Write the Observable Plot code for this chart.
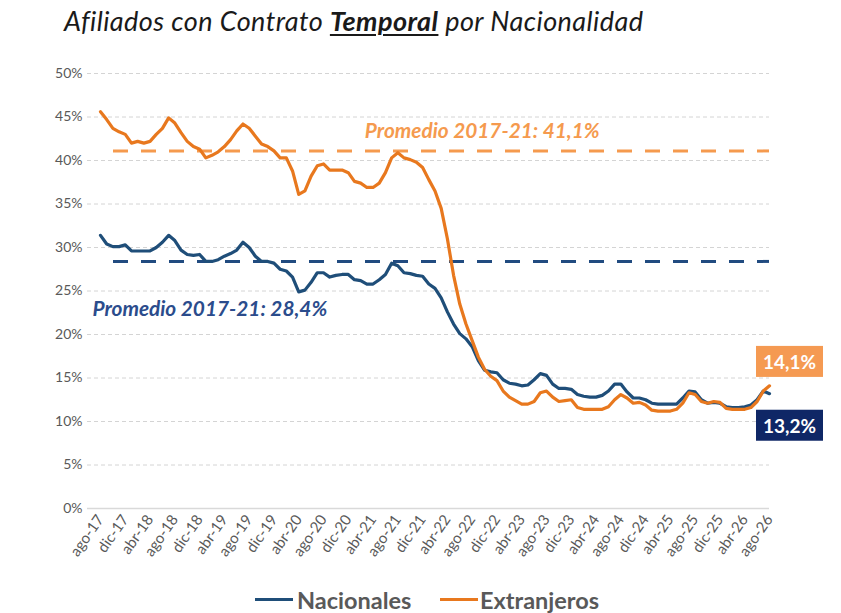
<!DOCTYPE html>
<html><head><meta charset="utf-8">
<script src="https://cdn.jsdelivr.net/npm/d3@7"></script>
<script src="https://cdn.jsdelivr.net/npm/@observablehq/plot@0.6"></script>
<style>
body{margin:0;background:#fff;}
#wrap{width:841px;height:613px;position:relative;overflow:hidden;font-family:Lato,"Open Sans",sans-serif;}
#title{position:absolute;left:64px;top:0;height:42px;line-height:42px;font-size:27px;font-style:italic;color:#1a1a1a;white-space:nowrap;letter-spacing:0.45px;}
#title b{font-weight:bold;text-decoration:underline;text-decoration-thickness:2px;text-underline-offset:3px;}
#chart{position:absolute;left:0;top:44px;}
.leg{position:absolute;top:585px;height:30px;line-height:30px;font-size:23.5px;font-weight:bold;color:#595959;white-space:nowrap;}
.sw{position:absolute;top:598px;height:3px;width:38px;}
</style></head><body>
<div id="wrap">
<div id="title">Afiliados con Contrato <b>Temporal</b> por Nacionalidad</div>
<div id="chart"></div>
<div class="sw" style="left:255px;background:#1F4E79"></div>
<div class="leg" style="left:297px">Nacionales</div>
<div class="sw" style="left:440px;background:#E8781E"></div>
<div class="leg" style="left:480px">Extranjeros</div>
</div>
<script>
const monthNames = ["ene","feb","mar","abr","may","jun","jul","ago","sep","oct","nov","dic"];
const startYear = 2017, startMonth = 7;
const seriesNames = ["Nacionales","Extranjeros"];
const seriesColors = ["#1F4E79","#E8781E"];
const nacionales = [31.4,30.4,30.1,30.1,30.3,29.6,29.6,29.6,29.6,30.0,30.6,31.4,30.8,29.7,29.2,29.1,29.2,28.4,28.4,28.6,
29.0,29.3,29.7,30.6,30.0,29.0,28.4,28.4,28.2,27.5,27.3,26.6,24.9,25.1,26.0,27.1,27.1,26.6,26.8,26.9,
26.9,26.3,26.2,25.8,25.8,26.3,26.9,28.2,27.9,27.1,27.0,26.8,26.7,25.8,25.3,24.2,22.6,21.2,20.1,19.5,
18.6,17.0,15.9,15.7,15.6,14.8,14.4,14.3,14.1,14.2,14.8,15.5,15.3,14.3,13.8,13.8,13.7,13.1,12.9,12.8,
12.8,13.0,13.5,14.3,14.3,13.4,12.7,12.7,12.5,12.1,12.0,12.0,12.0,12.0,12.7,13.5,13.4,12.5,12.1,12.2,
12.1,11.7,11.6,11.6,11.7,11.9,12.5,13.5,13.2];
const extranjeros = [45.6,44.7,43.7,43.3,43.0,42.0,42.2,42.0,42.2,43.0,43.7,44.9,44.3,43.2,42.2,41.6,41.3,40.3,40.6,41.0,
41.6,42.4,43.4,44.2,43.7,42.8,41.9,41.6,41.1,40.3,40.3,38.8,36.1,36.5,38.2,39.4,39.6,38.9,38.9,38.9,
38.6,37.6,37.4,36.9,36.9,37.4,38.6,40.3,40.9,40.3,40.1,39.8,39.2,37.8,36.5,34.5,31.0,26.8,23.5,21.2,
19.3,17.4,16.0,15.2,14.7,13.5,12.8,12.4,12.0,12.0,12.3,13.3,13.5,12.8,12.3,12.4,12.5,11.6,11.4,11.4,
11.4,11.4,11.7,12.5,13.1,12.7,12.1,12.2,11.9,11.3,11.2,11.2,11.2,11.4,12.1,13.3,13.1,12.3,12.1,12.3,
12.2,11.5,11.4,11.4,11.4,11.6,12.3,13.5,14.1];
const avgNacionales = 28.4;
const avgExtranjeros = 41.1;
const avgLabels = ["Promedio 2017-21: 28,4%","Promedio 2017-21: 41,1%"];
const endLabels = ["13,2%","14,1%"];
const yTicks = [0,5,10,15,20,25,30,35,40,45,50];

const months = nacionales.map((_, i) => {
  const m = (startMonth + i) % 12;
  const y = startYear + Math.floor((startMonth + i) / 12);
  return monthNames[m] + "-" + String(y % 100).padStart(2, "0");
});
const tickMonths = months.filter((_, i) => i % 4 === 0);
const data = [
  ...nacionales.map((v, i) => ({month: months[i], value: v, serie: seriesNames[0]})),
  ...extranjeros.map((v, i) => ({month: months[i], value: v, serie: seriesNames[1]}))
];
const last = months.length - 1;

const plot = Plot.plot({
  width: 841, height: 524,
  marginLeft: 100, marginRight: 72, marginTop: 29, marginBottom: 60,
  style: {fontFamily: "Lato, 'Open Sans', sans-serif", background: "white", overflow: "visible"},
  x: {type: "point", domain: months, padding: 0, round: false},
  y: {domain: [0, 50]},
  color: {domain: seriesNames, range: seriesColors},
  marks: [
    Plot.ruleY(yTicks.filter(d => d > 0), {stroke: "#d4d4d4", strokeDasharray: "4,3", insetLeft: -13}),
    Plot.ruleY([0], {stroke: "#d9d9d9", strokeWidth: 1.5, insetLeft: -13}),
    Plot.axisY(yTicks, {tickFormat: d => d + "%", tickSize: 0, tickPadding: 18, fontSize: 14, fill: "#595959", label: null}),
    Plot.axisX(tickMonths, {tickRotate: -55, tickSize: 0, tickPadding: 8, fontSize: 15, fill: "#595959", label: null}),
    Plot.ruleY([avgExtranjeros], {stroke: "#F59A4E", strokeWidth: 3, strokeDasharray: "15,13", strokeDashoffset: 15}),
    Plot.ruleY([avgNacionales], {stroke: "#214B80", strokeWidth: 3, strokeDasharray: "15,13", strokeDashoffset: 15}),
    Plot.line(data, {x: "month", y: "value", stroke: "serie", strokeWidth: 3.2}),
    Plot.text([{month: months[43], value: avgExtranjeros, label: avgLabels[1]}],
      {x: "month", y: "value", text: "label", textAnchor: "start", dx: -2, dy: -20, fill: "#F59A4E", fontWeight: "bold", fontStyle: "italic", fontSize: 20.8}),
    Plot.text([{month: months[0], value: avgNacionales, label: avgLabels[0]}],
      {x: "month", y: "value", text: "label", textAnchor: "start", dx: -8, dy: 48, fill: "#2B4C8C", fontWeight: "bold", fontStyle: "italic", fontSize: 20.8}),
    Plot.text([{month: months[last], value: extranjeros[last], label: endLabels[1]}],
      {x: "month", y: "value", text: "label", dx: 20, dy: -23, fill: "white", fontWeight: "bold", fontSize: 19, className: "box-orange"}),
    Plot.text([{month: months[last], value: nacionales[last], label: endLabels[0]}],
      {x: "month", y: "value", text: "label", dx: 20, dy: 33, fill: "white", fontWeight: "bold", fontSize: 19, className: "box-navy"})
  ]
});
document.getElementById("chart").appendChild(plot);

// draw boxes behind the end labels, sized from the rendered text
[["box-orange", "#F59A52"], ["box-navy", "#0F2766"]].forEach(([cls, color]) => {
  d3.select(plot).selectAll("g." + cls).each(function() {
    const g = this;
    d3.select(g).selectAll("text").each(function() {
      const b = this.getBBox();
      const cx = b.x + b.width / 2, cy = b.y + b.height / 2;
      const w = 67, h = 31;
      const t = this.getAttribute("transform");
      const r = document.createElementNS("http://www.w3.org/2000/svg", "rect");
      r.setAttribute("x", cx - w / 2);
      r.setAttribute("y", cy - h / 2);
      r.setAttribute("width", w);
      r.setAttribute("height", h);
      r.setAttribute("fill", color);
      if (t) r.setAttribute("transform", t);
      g.insertBefore(r, this);
    });
  });
});
</script>
</body></html>
